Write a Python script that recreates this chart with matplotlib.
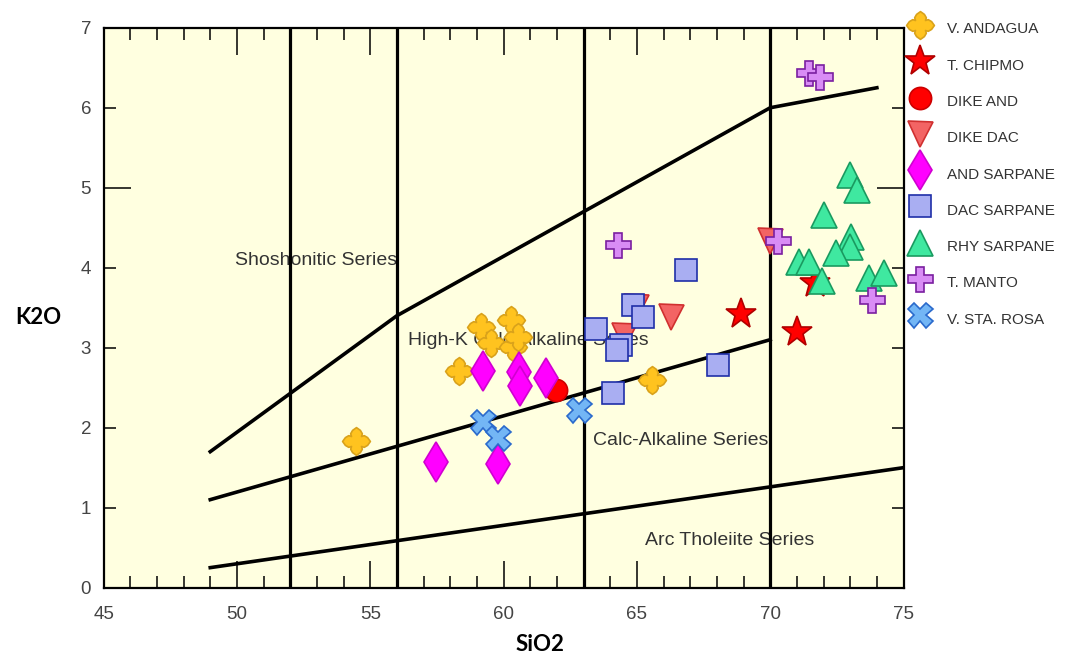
import matplotlib
matplotlib.use("Agg")
import matplotlib.pyplot as plt
from matplotlib.path import Path
from matplotlib.ticker import MultipleLocator, FormatStrFormatter

plt.rcParams["font.family"] = ["Liberation Sans", "DejaVu Sans"]

# sample groups: SiO2 (wt%) and K2O (wt%)
andagua_sio2 = [54.45, 58.32, 59.15, 60.28, 59.53, 60.35, 60.54, 65.58]
andagua_k2o = [1.83, 2.71, 3.26, 3.34, 3.06, 3.01, 3.13, 2.59]

chipmo_sio2 = [68.89, 71.0, 71.67]
chipmo_k2o = [3.42, 3.19, 3.81]

dike_and_sio2 = [61.97]
dike_and_k2o = [2.47]

dike_dac_sio2 = [66.29, 64.98, 64.53, 69.98]
dike_dac_k2o = [3.38, 3.51, 3.15, 4.34]

and_sarpane_sio2 = [59.23, 60.58, 60.62, 61.59, 57.46, 59.79]
and_sarpane_k2o = [2.71, 2.69, 2.52, 2.62, 1.57, 1.54]

dac_sarpane_sio2 = [66.86, 64.86, 65.24, 63.47, 64.41, 64.26, 68.06, 64.11]
dac_sarpane_k2o = [3.97, 3.53, 3.38, 3.23, 3.03, 2.97, 2.78, 2.43]

rhy_sarpane_sio2 = [72.98, 73.25, 72.01, 73.02, 72.98, 72.46, 71.07, 71.44, 71.93, 73.70, 74.26]
rhy_sarpane_k2o = [5.16, 4.97, 4.66, 4.38, 4.26, 4.18, 4.07, 4.07, 3.84, 3.87, 3.94]

manto_sio2 = [64.31, 70.30, 73.81, 71.44, 71.86]
manto_k2o = [4.29, 4.34, 3.60, 6.44, 6.39]

sta_rosa_sio2 = [59.23, 59.79, 62.83]
sta_rosa_k2o = [2.07, 1.87, 2.22]

# field boundaries (Peccerillo & Taylor style)
sho_x = [49, 56, 70, 74]
sho_y = [1.7, 3.4, 6.0, 6.25]
hk_x = [49, 70]
hk_y = [1.1, 3.1]
th_x = [49, 75]
th_y = [0.25, 1.5]
silica_divides = [52, 56, 63, 70]

field_names = ["Shoshonitic Series", "High-K Calc-Alkaline Series",
               "Calc-Alkaline Series", "Arc Tholeiite Series"]
field_x = [52.98, 60.91, 66.63, 68.47]
field_y = [4.09, 3.09, 1.84, 0.59]

# four-lobed marker for V. Andagua (pointed tips, rounded sides)
quarter = [(1, 0), (0.8, 0.28), (0.56, 0.42), (0.36, 0.36), (0.42, 0.56), (0.28, 0.8)]
lobe = []
for k in range(4):
    for px, py in quarter:
        # rotate each quarter by k * 90 degrees
        for _ in range(k):
            px, py = -py, px
        lobe.append((px, py))
lobe.append(lobe[0])
lobe_marker = Path(lobe, closed=True)

fig = plt.figure(figsize=(10.68, 6.61), dpi=100)
ax = fig.add_axes([0.097, 0.111, 0.749, 0.847])
ax.set_facecolor("#FFFFE0")

for xv in silica_divides:
    ax.axvline(xv, color="black", lw=2.3, zorder=2)
ax.plot(sho_x, sho_y, color="black", lw=2.6, zorder=2)
ax.plot(hk_x, hk_y, color="black", lw=2.6, zorder=2)
ax.plot(th_x, th_y, color="black", lw=2.6, zorder=2)

for name, fx, fy in zip(field_names, field_x, field_y):
    ax.text(fx, fy, name, ha="center", va="center", fontsize=14,
            color="#333333", zorder=1)

groups = [
    (andagua_sio2, andagua_k2o, "V. ANDAGUA", lobe_marker, 20, "#FFC31F", "#D9A21B"),
    (chipmo_sio2, chipmo_k2o, "T. CHIPMO", "*", 23, "#FF0000", "#B00000"),
    (dike_and_sio2, dike_and_k2o, "DIKE AND", "o", 16, "#FF0000", "#CC0000"),
    (dike_dac_sio2, dike_dac_k2o, "DIKE DAC", "v", 18, "#F36464", "#D03030"),
    (and_sarpane_sio2, and_sarpane_k2o, "AND SARPANE", "d", 20, "#FF00FF", "#D000D0"),
    (dac_sarpane_sio2, dac_sarpane_k2o, "DAC SARPANE", "s", 16.5, "#A9AEF2", "#1F2FA8"),
    (rhy_sarpane_sio2, rhy_sarpane_k2o, "RHY SARPANE", "^", 19, "#3FE8A0", "#1A9A60"),
    (manto_sio2, manto_k2o, "T. MANTO", "P", 18, "#D98CF5", "#7A1FA0"),
    (sta_rosa_sio2, sta_rosa_k2o, "V. STA. ROSA", "X", 18, "#73B6F5", "#2A6ACC"),
]
for xs, ys, label, mk, ms, fc, ec in groups:
    ax.plot(xs, ys, ls="none", marker=mk, ms=ms, mfc=fc, mec=ec, mew=1.2,
            label=label, zorder=3)

ax.set_xlim(45, 75)
ax.set_ylim(0, 7)
ax.xaxis.set_major_locator(MultipleLocator(5))
ax.xaxis.set_minor_locator(MultipleLocator(1))
ax.yaxis.set_major_locator(MultipleLocator(5))
ax.yaxis.set_minor_locator(MultipleLocator(1))
ax.yaxis.set_major_formatter(FormatStrFormatter("%d"))
ax.yaxis.set_minor_formatter(FormatStrFormatter("%d"))
ax.tick_params(which="both", direction="in", top=True, right=True,
               width=1.1, color="black", labelsize=13.5, labelcolor="#444444")
ax.tick_params(which="major", length=19.5)
ax.tick_params(which="minor", length=8.6)
ax.tick_params(axis="x", which="both", pad=13)
ax.tick_params(axis="y", which="both", pad=9)
for sp in ax.spines.values():
    sp.set_linewidth(1.6)

fig.text(0.0356, 0.519, "K2O", ha="center", va="center", fontsize=16,
         fontweight="bold", family=["Lato", "DejaVu Sans"])
fig.text(0.5056, 0.0257, "SiO2", ha="center", va="center", fontsize=16,
         fontweight="bold", family=["Lato", "DejaVu Sans"])

fig.legend(loc="upper left", bbox_to_anchor=(0.8471, 0.9747),
           bbox_transform=fig.transFigure, frameon=False, numpoints=1,
           fontsize=11, labelcolor="#333333", borderpad=0, borderaxespad=0,
           handlelength=2.0, handleheight=2.0, labelspacing=0.83,
           handletextpad=0.76)

fig.savefig("out.png", dpi=100)
